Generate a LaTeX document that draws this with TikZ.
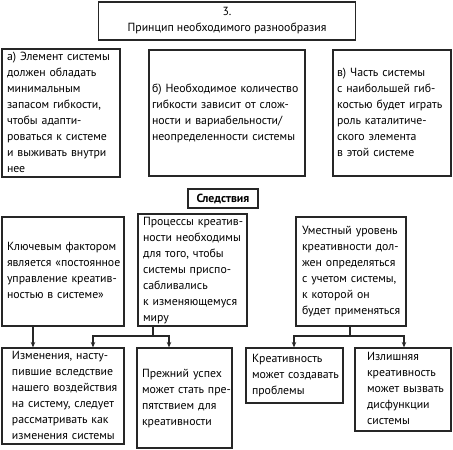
\documentclass[tikz,border=0pt]{standalone}
\usepackage{fontspec}
\setmainfont{PT Sans}
\usetikzlibrary{arrows.meta}
\newcommand{\boxlines}[1]{\begin{tabular}{@{}l@{}}#1\end{tabular}}
\begin{document}
\begin{tikzpicture}[x=1pt,y=-1pt,
  box/.style={draw=black!85,line width=1.1pt,align=left,inner xsep=0pt,inner ysep=0pt,font=\fontsize{11.8}{16}\selectfont},
  arr/.style={draw=black!85,line width=1.1pt,-{Stealth[length=5.5pt,width=4.5pt]}},
  ln/.style={draw=black!85,line width=1.1pt}]
\useasboundingbox (0,0) rectangle (453,450);
\node[box,align=center,minimum width=257,minimum height=38] (top) at (227,21) {3.\\Принцип необходимого разнообразия};
\node[box,minimum width=118,minimum height=126,text width=108] (a) at (61,113) {\boxlines{а) Элемент системы\\должен обладать\\минимальным\\запасом гибкости,\\чтобы адапти-\\роваться к системе\\и выживать внутри\\нее}};
\node[box,minimum width=156,minimum height=126,text width=150] (b) at (227,113) {\boxlines{б) Необходимое количество\\гибкости зависит от слож-\\ности и вариабельности/\\неопределенности системы}};
\node[box,minimum width=118,minimum height=126,text width=110] (c) at (392,113) {\boxlines{в) Часть системы\\с наибольшей гиб-\\костью будет играть\\роль каталитиче-\\ского элемента\\в этой системе}};
\node[box,align=center,minimum width=70,minimum height=19,font=\fontsize{11.8}{14}\selectfont\bfseries] (s) at (223,198.5) {Следствия};
\node[box,minimum width=122,minimum height=109,text width=112] (r1) at (63,271.5) {\boxlines{Ключевым фактором\\является «постоянное\\управление креатив-\\ностью в системе»}};
\node[box,minimum width=109,minimum height=112,text width=99] (r2) at (192.5,270) {\boxlines{Процессы креатив-\\ности необходимы\\для того, чтобы\\системы приспо-\\сабливались\\к изменяющемуся\\миру}};
\node[box,minimum width=110,minimum height=109,text width=98] (r3) at (351,271.5) {\boxlines{Уместный уровень\\креативности дол-\\жен определяться\\с учетом системы,\\к которой он\\будет применяться}};
\node[box,minimum width=122,minimum height=96,text width=102] (r4) at (63,396) {\boxlines{Изменения, насту-\\пившие вследствие\\нашего воздействия\\на систему, следует\\рассматривать как\\изменения системы}};
\node[box,minimum width=95,minimum height=100,text width=85] (r5) at (184.5,398) {\boxlines{Прежний успех\\может стать пре-\\пятствием для\\креативности}};
\node[box,minimum width=97,minimum height=55,text width=85] (r6) at (294.5,375.5) {\boxlines{Креативность\\может создавать\\проблемы}};
\node[box,minimum width=96,minimum height=83,text width=72] (r7) at (403,389.5) {\boxlines{Излишняя\\креативность\\может вызвать\\дисфункции\\системы}};
\coordinate (p1) at (33,0);
\coordinate (p2) at (153,0);
\coordinate (p3) at (350,0);
\coordinate (q4) at (93,0);
\coordinate (q5) at (169,0);
\coordinate (q6) at (294,0);
\coordinate (q7) at (404,0);
\coordinate (j2) at (153,336);
\coordinate (j3) at (350,336);
\draw[arr] (r1.south -| p1) -- (r4.north -| p1);
\draw[ln] (r2.south -| p2) -- (j2);
\draw[arr] (j2) -| (r4.north -| q4);
\draw[arr] (j2) -| (r5.north -| q5);
\draw[ln] (r3.south -| p3) -- (j3);
\draw[arr] (j3) -| (r6.north -| q6);
\draw[arr] (j3) -| (r7.north -| q7);
\end{tikzpicture}
\end{document}
